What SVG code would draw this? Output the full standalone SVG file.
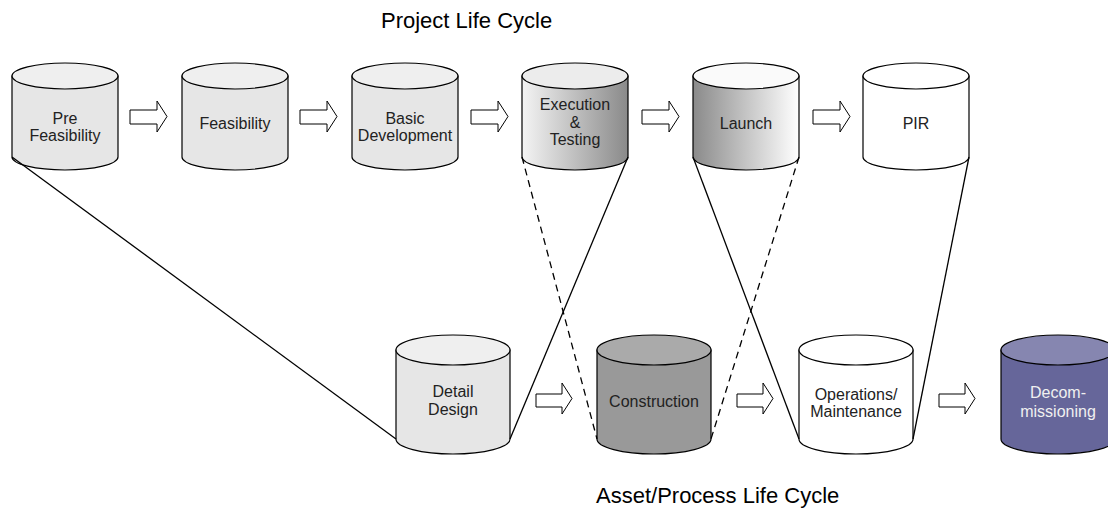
<svg xmlns="http://www.w3.org/2000/svg" width="1108" height="510" viewBox="0 0 1108 510">
  <defs>
    <linearGradient id="gradExec" x1="0" y1="0" x2="1" y2="0">
      <stop offset="0" stop-color="#f4f4f4"/>
      <stop offset="1" stop-color="#8a8a8a"/>
    </linearGradient>
    <linearGradient id="gradLaunch" x1="0" y1="0" x2="1" y2="0">
      <stop offset="0" stop-color="#8a8a8a"/>
      <stop offset="1" stop-color="#ffffff"/>
    </linearGradient>
    <!-- block arrow, top row size -->
    <path id="arrowTop" d="M0,9 H27 V0 L37,15.5 L27,31 V23 H0 Z"/>
    <path id="arrowBot" d="M0,11 H26 V0 L36,15.5 L26,31 V24 H0 Z"/>
  </defs>
  <style>
    .cyl { stroke: #000; stroke-width: 1.2; }
    .arr { fill: #fff; stroke: #000; stroke-width: 1; }
    .lbl { font-family: "Liberation Sans", Arial, sans-serif; font-size: 16px; fill: #222; text-anchor: middle; }
    .title { font-family: "Liberation Sans", Arial, sans-serif; font-size: 22px; fill: #000; }
    .link { fill: none; stroke: #000; stroke-width: 1.3; }
    .dash { stroke-dasharray: 7 5; }
    .light .body { fill: #e6e6e6; } .light .top { fill: #efefef; }
    .white .body { fill: #ffffff; } .white .top { fill: #ffffff; }
    .dark .body { fill: #999999; } .dark .top { fill: #aaaaaa; }
    .purple .body { fill: #66669a; } .purple .top { fill: #8686b0; }
    .purple .lbl { fill: #f0f0f0; }
  </style>

  <rect width="1108" height="510" fill="#fff"/>

  <text class="title" x="381" y="28">Project Life Cycle</text>
  <text class="title" x="596" y="503">Asset/Process Life Cycle</text>

  <!-- top row: rx 53, top cy 76, bottom cy 157, ry 13 -->
  <g id="pre-feasibility" class="light">
    <path class="cyl body" d="M12,76 V157 A53,13 0 0 0 118,157 V76 Z"/>
    <ellipse class="cyl top" cx="65" cy="76" rx="53" ry="13"/>
    <text class="lbl" x="65" y="124">Pre</text>
    <text class="lbl" x="65" y="141">Feasibility</text>
  </g>
  <g id="feasibility" class="light">
    <path class="cyl body" d="M182,76 V157 A53,13 0 0 0 288,157 V76 Z"/>
    <ellipse class="cyl top" cx="235" cy="76" rx="53" ry="13"/>
    <text class="lbl" x="235" y="129">Feasibility</text>
  </g>
  <g id="basic-development" class="light">
    <path class="cyl body" d="M352,76 V157 A53,13 0 0 0 458,157 V76 Z"/>
    <ellipse class="cyl top" cx="405" cy="76" rx="53" ry="13"/>
    <text class="lbl" x="405" y="124">Basic</text>
    <text class="lbl" x="405" y="141">Development</text>
  </g>
  <g id="execution-testing">
    <path class="cyl" fill="url(#gradExec)" d="M522,76 V157 A53,13 0 0 0 628,157 V76 Z"/>
    <ellipse class="cyl" fill="#ececec" cx="575" cy="76" rx="53" ry="13"/>
    <text class="lbl" x="575" y="110">Execution</text>
    <text class="lbl" x="575" y="128">&amp;</text>
    <text class="lbl" x="575" y="145">Testing</text>
  </g>
  <g id="launch">
    <path class="cyl" fill="url(#gradLaunch)" d="M693,76 V157 A53,13 0 0 0 799,157 V76 Z"/>
    <ellipse class="cyl" fill="#fafafa" cx="746" cy="76" rx="53" ry="13"/>
    <text class="lbl" x="746" y="129">Launch</text>
  </g>
  <g id="pir" class="white">
    <path class="cyl body" d="M863,76 V157 A53,13 0 0 0 969,157 V76 Z"/>
    <ellipse class="cyl top" cx="916" cy="76" rx="53" ry="13"/>
    <text class="lbl" x="916" y="129">PIR</text>
  </g>

  <!-- bottom row: rx 57, top cy 350, bottom cy 439, ry 15 -->
  <g id="detail-design" class="light">
    <path class="cyl body" d="M396,350 V439 A57,15 0 0 0 510,439 V350 Z"/>
    <ellipse class="cyl top" cx="453" cy="350" rx="57" ry="15"/>
    <text class="lbl" x="453" y="397">Detail</text>
    <text class="lbl" x="453" y="415">Design</text>
  </g>
  <g id="construction" class="dark">
    <path class="cyl body" d="M597,350 V439 A57,15 0 0 0 711,439 V350 Z"/>
    <ellipse class="cyl top" cx="654" cy="350" rx="57" ry="15"/>
    <text class="lbl" x="654" y="407">Construction</text>
  </g>
  <g id="operations-maintenance" class="white">
    <path class="cyl body" d="M799,350 V439 A57,15 0 0 0 913,439 V350 Z"/>
    <ellipse class="cyl top" cx="856" cy="350" rx="57" ry="15"/>
    <text class="lbl" x="856" y="400">Operations/</text>
    <text class="lbl" x="856" y="417">Maintenance</text>
  </g>
  <g id="decommissioning" class="purple">
    <path class="cyl body" d="M1001,350 V439 A57,15 0 0 0 1115,439 V350 Z"/>
    <ellipse class="cyl top" cx="1058" cy="350" rx="57" ry="15"/>
    <text class="lbl" x="1058" y="398">Decom-</text>
    <text class="lbl" x="1058" y="417">missioning</text>
  </g>

  <g id="connectors">
    <!-- flow arrows -->
    <use href="#arrowTop" class="arr" x="130" y="101"/>
    <use href="#arrowTop" class="arr" x="300" y="101"/>
    <use href="#arrowTop" class="arr" x="471" y="101"/>
    <use href="#arrowTop" class="arr" x="642" y="101"/>
    <use href="#arrowTop" class="arr" x="813" y="101"/>
    <use href="#arrowBot" class="arr" x="536" y="383"/>
    <use href="#arrowBot" class="arr" x="737" y="383"/>
    <use href="#arrowBot" class="arr" x="939" y="383"/>
    <!-- phase mapping lines -->
    <line class="link" x1="12" y1="157" x2="396" y2="439"/>
    <line class="link dash" x1="522" y1="157" x2="597" y2="439"/>
    <line class="link" x1="628" y1="157" x2="510" y2="439"/>
    <line class="link" x1="693" y1="157" x2="799" y2="439"/>
    <line class="link dash" x1="799" y1="157" x2="711" y2="439"/>
    <line class="link" x1="969" y1="157" x2="913" y2="439"/>
  </g>
</svg>
